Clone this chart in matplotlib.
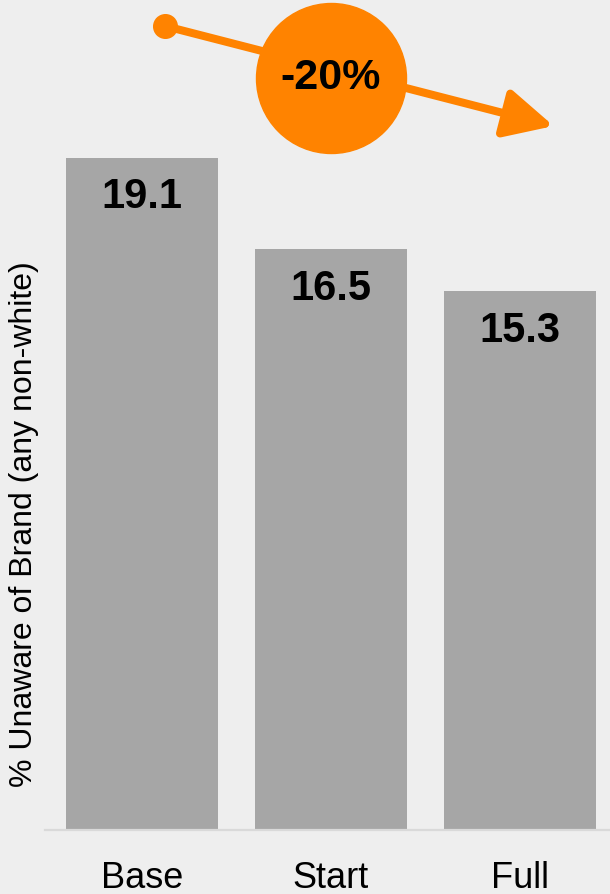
import matplotlib
matplotlib.use("Agg")
import matplotlib.pyplot as plt

plt.rcParams['font.family'] = ['Liberation Sans', 'DejaVu Sans']

categories = ['Base', 'Start', 'Full']
values = [19.1, 16.5, 15.3]
ylabel = '% Unaware of Brand (any non-white)'

bg = '#eeeeee'
bar_c = '#a6a6a6'
orange = '#ff8300'

fig = plt.figure(figsize=(6.1, 8.94), dpi=100, facecolor=bg)
ax = fig.add_axes([45 / 610, 64 / 894, 565 / 610, 830 / 894])
ax.set_facecolor(bg)

x = list(range(len(categories)))
ax.bar(x, values, width=0.804, color=bar_c, zorder=2)
ax.set_xlim(-0.513, 2.476)
ax.set_ylim(0, 23.58)

for xi, v in zip(x, values):
    ax.text(xi, v - 0.55, f'{v:.1f}', ha='center', va='top',
            fontsize=30, fontweight='bold', color='black', zorder=3)

ax.set_xticks(x)
ax.set_xticklabels(categories, fontsize=26)
ax.tick_params(axis='x', length=0, pad=22)
ax.set_yticks([])
for s in ['top', 'right', 'left']:
    ax.spines[s].set_visible(False)
ax.spines['bottom'].set_color('#d9d9d9')
ax.spines['bottom'].set_linewidth(1.6)

fig.text(24 / 610, 1 - 524 / 894, ylabel, rotation=90, ha='center', va='center',
         fontsize=23, color='black')

# change arrow from first to last bar
change = (values[-1] - values[0]) / values[0] * 100
x0, y0 = x[0] + 0.122, 22.84
x1, y1 = x[-1] + 0.178, 20.0
ax.annotate('', xy=(x1, y1), xytext=(x0, y0),
            arrowprops=dict(arrowstyle='-|>', color=orange, lw=5.8,
                            mutation_scale=74, shrinkA=0, shrinkB=0),
            zorder=4, annotation_clip=False)
ax.plot([x0], [y0], 'o', color=orange, markersize=17, zorder=4, clip_on=False)
ax.plot([1.0], [21.37], 'o', color=orange, markersize=108, zorder=5, clip_on=False)
ax.text(1.0, 21.37, f'{change:.0f}%', ha='center', va='center', fontsize=31,
        fontweight='bold', color='black', zorder=6)

fig.savefig('out.png', dpi=100, facecolor=bg)
